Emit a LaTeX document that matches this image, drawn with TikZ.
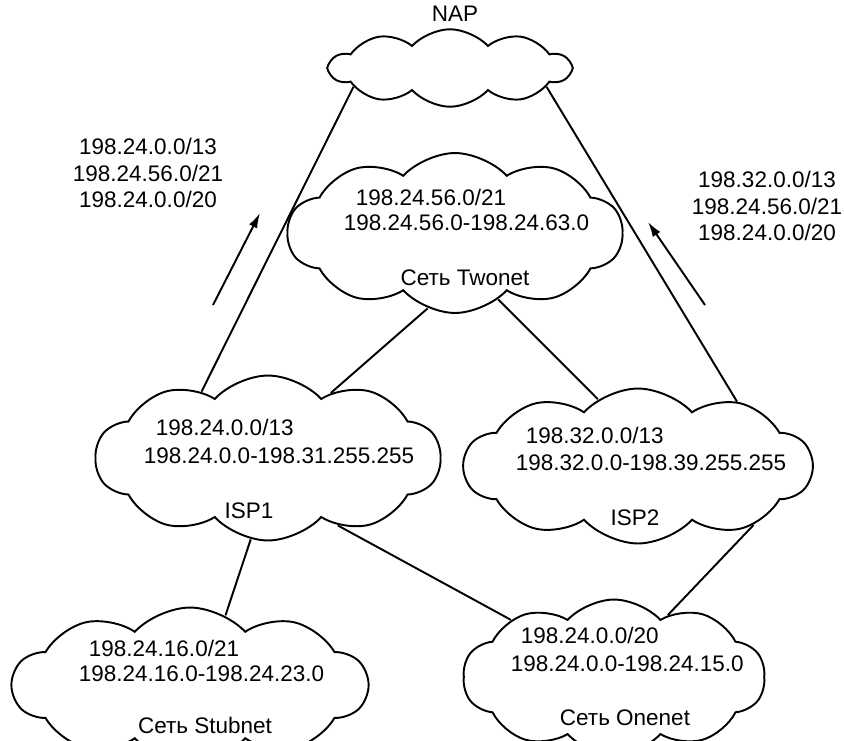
\documentclass[tikz,border=0pt]{standalone}
\usepackage{fontspec}
\setmainfont{Liberation Sans}
\usetikzlibrary{shapes.symbols,arrows.meta}
\newcommand\addrfont{\fontsize{12.8}{15}\selectfont}

\begin{document}
\begin{tikzpicture}
  [x=0.02cm,y=-0.02cm,line width=1.1pt,
   net/.style={cloud, draw, cloud puffs=10, cloud puff arc=95, cloud ignores aspect, inner sep=0pt},
   txt/.style={inner sep=0pt, font=\addrfont},
   route/.style={align=center, inner sep=0pt, font=\addrfont}]
  \useasboundingbox (0,0) rectangle (844,740);

  % clouds
  \node[net, minimum width=4.8cm,  minimum height=1.55cm] (nap) at (450,68) {};
  \node[net, minimum width=6.7cm,  minimum height=3.2cm] (twonet) at (455,233) {};
  \node[net, minimum width=6.9cm,  minimum height=3.3cm] (isp1) at (268,458) {};
  \node[net, minimum width=6.96cm, minimum height=3.1cm] (isp2) at (638,466) {};
  \node[net, minimum width=7.1cm,  minimum height=3.1cm] (stubnet) at (190,685) {};
  \node[net, minimum width=6.04cm, minimum height=3.1cm] (onenet) at (614,677) {};

  % texts
  \node[txt, anchor=base] (napname) at (455,22) {NAP};
  \node[txt, anchor=base west] (twopref) at (355,205) {198.24.56.0/21};
  \node[txt, anchor=base west] (tworange) at (343,230) {198.24.56.0-198.24.63.0};
  \node[txt, anchor=base] (twoname) at (465,285) {Сеть Twonet};
  \node[txt, anchor=base west] (isp1pref) at (155,435) {198.24.0.0/13};
  \node[txt, anchor=base west] (isp1range) at (143,463) {198.24.0.0-198.31.255.255};
  \node[txt, anchor=base] (isp1name) at (249,518) {ISP1};
  \node[txt, anchor=base west] (isp2pref) at (525,443) {198.32.0.0/13};
  \node[txt, anchor=base west] (isp2range) at (515,470) {198.32.0.0-198.39.255.255};
  \node[txt, anchor=base] (isp2name) at (635,525) {ISP2};
  \node[txt, anchor=base west] (stubpref) at (88,656) {198.24.16.0/21};
  \node[txt, anchor=base west] (stubrange) at (78,681) {198.24.16.0-198.24.23.0};
  \node[txt, anchor=base] (stubname) at (205,733) {Сеть Stubnet};
  \node[txt, anchor=base west] (onepref) at (520,643) {198.24.0.0/20};
  \node[txt, anchor=base west] (onerange) at (510,671) {198.24.0.0-198.24.15.0};
  \node[txt, anchor=base] (onename) at (625,725) {Сеть Onenet};

  % announced routes
  \node[route] (left) at (148,173) {198.24.0.0/13\\198.24.56.0/21\\198.24.0.0/20};
  \node[route] (right) at (767,206) {198.32.0.0/13\\198.24.56.0/21\\198.24.0.0/20};

  \coordinate (la1) at (213,305);
  \coordinate (la2) at (260,213);
  \coordinate (ra1) at (705,305);
  \coordinate (ra2) at (648,222);

\path[draw]
    (nap.191) edge (isp1.135)
    (nap.349) edge (isp2.33)
    (twonet.250) edge (isp1.46)
    (twonet.303) edge (isp2.121)
    (isp1.258) edge (stubnet.63)
    (isp1.316) edge (onenet.151)
    (isp2.333) edge (onenet.49)
;
\path
    (la1) edge[-{Latex[length=3mm,width=1.8mm]}] (la2)
    (ra1) edge[-{Latex[length=3mm,width=1.8mm]}] (ra2)
;
\end{tikzpicture}
\end{document}
